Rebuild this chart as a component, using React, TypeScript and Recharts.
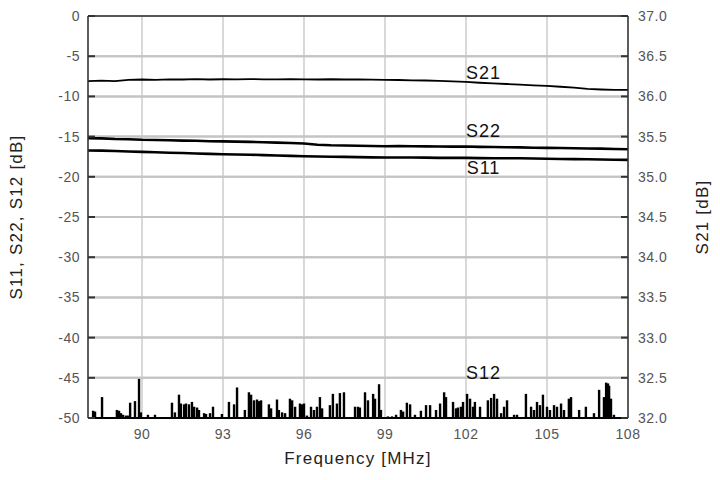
import React from 'react';
import {
  ComposedChart,
  Line,
  Bar,
  XAxis,
  YAxis,
  CartesianGrid,
  ReferenceLine,
  ReferenceDot,
  Label,
} from 'recharts';

const xTicks = [90, 93, 96, 99, 102, 105, 108];
const leftTicks = [0, -5, -10, -15, -20, -25, -30, -35, -40, -45, -50];
const rightTicks = [32, 32.5, 33, 33.5, 34, 34.5, 35, 35.5, 36, 36.5, 37];

// S21 on the right axis
const s21Freq = [88, 88.5, 89, 89.5, 90, 90.5, 91, 91.5, 92, 92.5, 93, 93.5, 94, 94.5, 95, 95.5, 96, 96.5, 97, 97.5, 98, 98.5, 99, 99.5, 100, 100.5, 101, 101.5, 102, 102.5, 103, 103.5, 104, 104.5, 105, 105.5, 106, 106.5, 107, 107.5, 108];
const s21Vals = [36.19, 36.195, 36.19, 36.205, 36.21, 36.205, 36.212, 36.21, 36.214, 36.21, 36.213, 36.212, 36.215, 36.213, 36.212, 36.214, 36.212, 36.21, 36.213, 36.21, 36.21, 36.208, 36.206, 36.204, 36.2, 36.198, 36.194, 36.188, 36.18, 36.17, 36.162, 36.154, 36.146, 36.138, 36.13, 36.12, 36.108, 36.094, 36.086, 36.081, 36.08];

// S22 and S11 on the left axis
const s22Freq = [88, 88.5, 89, 89.5, 90, 90.5, 91, 91.5, 92, 92.5, 93, 93.5, 94, 94.5, 95, 95.5, 96, 96.5, 97, 97.5, 98, 98.5, 99, 99.5, 100, 100.5, 101, 101.5, 102, 102.5, 103, 103.5, 104, 104.5, 105, 105.5, 106, 106.5, 107, 107.5, 108];
const s22Vals = [-15.2, -15.22, -15.3, -15.33, -15.4, -15.42, -15.45, -15.5, -15.52, -15.58, -15.6, -15.62, -15.66, -15.7, -15.75, -15.8, -15.85, -16.02, -16.08, -16.1, -16.14, -16.16, -16.2, -16.18, -16.2, -16.22, -16.24, -16.25, -16.24, -16.28, -16.3, -16.32, -16.34, -16.38, -16.4, -16.42, -16.45, -16.48, -16.5, -16.55, -16.58];

const s11Freq = [88, 88.5, 89, 89.5, 90, 90.5, 91, 91.5, 92, 92.5, 93, 93.5, 94, 94.5, 95, 95.5, 96, 96.5, 97, 97.5, 98, 98.5, 99, 99.5, 100, 100.5, 101, 101.5, 102, 102.5, 103, 103.5, 104, 104.5, 105, 105.5, 106, 106.5, 107, 107.5, 108];
const s11Vals = [-16.72, -16.75, -16.8, -16.86, -16.9, -16.95, -17.0, -17.04, -17.1, -17.15, -17.2, -17.22, -17.25, -17.3, -17.35, -17.4, -17.45, -17.48, -17.5, -17.52, -17.55, -17.58, -17.6, -17.6, -17.6, -17.62, -17.65, -17.64, -17.65, -17.68, -17.7, -17.7, -17.7, -17.72, -17.75, -17.78, -17.8, -17.82, -17.85, -17.88, -17.9];

// S12 spikes above the -50 dB floor
const s12Freq = [88.19, 88.26, 88.52, 89.07, 89.15, 89.22, 89.3, 89.41, 89.48, 89.56, 89.74, 89.89, 89.96, 90.22, 90.48, 91.11, 91.22, 91.37, 91.44, 91.56, 91.63, 91.74, 91.85, 91.93, 92.04, 92.11, 92.3, 92.37, 92.52, 92.63, 92.96, 93.22, 93.41, 93.52, 93.81, 93.96, 94.04, 94.15, 94.26, 94.33, 94.41, 94.7, 94.78, 95.0, 95.07, 95.19, 95.3, 95.48, 95.56, 95.67, 95.85, 95.93, 96.0, 96.11, 96.26, 96.37, 96.48, 96.59, 96.67, 96.96, 97.07, 97.22, 97.33, 97.48, 97.89, 98.0, 98.07, 98.26, 98.37, 98.56, 98.63, 98.78, 98.85, 99.11, 99.26, 99.41, 99.59, 99.67, 99.81, 99.93, 100.11, 100.33, 100.52, 100.67, 100.89, 101.04, 101.19, 101.26, 101.52, 101.63, 101.7, 101.81, 101.89, 102.04, 102.15, 102.26, 102.33, 102.52, 102.81, 102.93, 103.04, 103.15, 103.3, 103.41, 103.52, 103.78, 103.89, 104.22, 104.41, 104.52, 104.63, 104.74, 104.85, 105.0, 105.11, 105.26, 105.37, 105.52, 105.63, 105.81, 105.89, 106.19, 106.44, 106.74, 106.93, 107.11, 107.19, 107.26, 107.3, 107.37, 107.48];
const s12Vals = [-49.1, -49.2, -47.4, -49.0, -49.1, -49.4, -49.6, -49.7, -49.7, -48.1, -47.9, -45.1, -49.3, -49.6, -49.6, -48.1, -49.3, -47.1, -48.2, -48.3, -48.2, -48.3, -48.0, -48.6, -48.7, -49.0, -49.4, -49.5, -49.4, -48.6, -49.5, -48.0, -48.3, -46.2, -49.0, -46.8, -47.1, -47.8, -47.7, -47.9, -47.8, -48.3, -48.8, -47.7, -49.0, -49.3, -49.4, -47.6, -47.8, -48.6, -48.2, -48.3, -48.2, -49.7, -48.6, -49.0, -48.6, -47.4, -48.8, -48.4, -47.0, -48.2, -46.9, -46.8, -48.6, -48.6, -48.7, -46.8, -47.8, -47.0, -47.6, -45.8, -49.0, -49.8, -49.8, -49.6, -49.0, -49.2, -48.1, -48.3, -49.6, -49.1, -48.4, -48.4, -49.0, -48.2, -46.8, -47.4, -48.0, -48.8, -48.7, -48.6, -48.0, -47.0, -47.6, -48.6, -48.0, -48.6, -47.8, -47.5, -47.0, -47.6, -49.4, -48.6, -47.8, -49.6, -49.6, -47.0, -48.6, -49.0, -48.0, -48.4, -47.1, -48.6, -49.0, -48.4, -48.6, -48.2, -49.0, -47.6, -47.4, -49.0, -48.6, -49.4, -46.5, -47.4, -45.6, -45.7, -46.0, -47.6, -49.6];

const FLOOR = -50;

type Row = { f: number; s21?: number; s22?: number; s11?: number; s12?: [number, number] };

const rows: Row[] = [
  ...s21Freq.map((f, i) => ({ f, s21: s21Vals[i] })),
  ...s22Freq.map((f, i) => ({ f, s22: s22Vals[i] })),
  ...s11Freq.map((f, i) => ({ f, s11: s11Vals[i] })),
  ...s12Freq.map((f, i) => ({ f, s12: [FLOOR, s12Vals[i]] as [number, number] })),
].sort((a, b) => a.f - b.f);

const font = '"Liberation Sans", Arial, sans-serif';
const tickStyle = { fontSize: 14, fill: '#555', fontFamily: font, letterSpacing: 0.5 };
const labelStyle = { fontSize: 17, fill: '#222', fontFamily: font, letterSpacing: 1.2 };
const GRID = '#c4c4c4';

const seriesLabel = (text: string) => ({
  value: text,
  position: 'center' as const,
  fill: '#111',
  fontSize: 18,
  fontFamily: font,
  letterSpacing: 1,
});

// spike with a fixed visible width, centred where the library put the bar
const Spike = (props: any) => {
  const { x, y, width, height } = props;
  if (height == null || Number.isNaN(height)) return null;
  const w = 2.4;
  const cx = x + width / 2;
  const top = Math.min(y, y + height);
  return <rect x={cx - w / 2} y={top} width={w} height={Math.abs(height)} fill="#000" />;
};

export default function App() {
  return (
    <div style={{ width: 720, height: 480, margin: -8, background: '#fff' }}>
      <ComposedChart
        width={720}
        height={480}
        data={rows}
        margin={{ top: 16, right: 20, bottom: 32, left: 18 }}
      >
        <CartesianGrid yAxisId="left" vertical={false} stroke={GRID} strokeWidth={2} />
        <CartesianGrid horizontal={false} stroke={GRID} strokeWidth={1.3} />
        <XAxis
          dataKey="f"
          type="number"
          domain={[88, 108]}
          ticks={xTicks}
          allowDataOverflow
          height={30}
          tickLine={false}
          tickMargin={5}
          tick={tickStyle}
          axisLine={{ stroke: '#000', strokeWidth: 2 }}
        >
          <Label value="Frequency [MHz]" position="bottom" offset={4} style={labelStyle} />
        </XAxis>
        <YAxis
          yAxisId="left"
          domain={[-50, 0]}
          ticks={leftTicks}
          allowDataOverflow
          width={70}
          tickSize={-7}
          tickMargin={15}
          tick={tickStyle}
          tickLine={{ stroke: '#333', strokeWidth: 2 }}
          axisLine={{ stroke: '#333', strokeWidth: 1.5 }}
        >
          <Label
            value="S11, S22, S12 [dB]"
            angle={-90}
            position="insideLeft"
            offset={-2}
            style={{ ...labelStyle, textAnchor: 'middle' }}
          />
        </YAxis>
        <YAxis
          yAxisId="right"
          orientation="right"
          domain={[32, 37]}
          ticks={rightTicks}
          allowDataOverflow
          width={72}
          tickSize={-7}
          tickMargin={17}
          tick={tickStyle}
          tickFormatter={(v: number) => v.toFixed(1)}
          tickLine={{ stroke: '#333', strokeWidth: 2 }}
          axisLine={{ stroke: '#333', strokeWidth: 1.5 }}
        >
          <Label
            value="S21 [dB]"
            angle={-90}
            position="insideRight"
            offset={-2}
            style={{ ...labelStyle, textAnchor: 'middle' }}
          />
        </YAxis>
        <ReferenceLine yAxisId="left" y={leftTicks[1]} stroke={GRID} strokeWidth={2} />
        <ReferenceLine yAxisId="left" y={leftTicks[2]} stroke={GRID} strokeWidth={2} />
        <ReferenceLine yAxisId="left" y={leftTicks[3]} stroke={GRID} strokeWidth={2} />
        <ReferenceLine yAxisId="left" y={leftTicks[4]} stroke={GRID} strokeWidth={2} />
        <ReferenceLine yAxisId="left" y={leftTicks[5]} stroke={GRID} strokeWidth={2} />
        <ReferenceLine yAxisId="left" y={leftTicks[6]} stroke={GRID} strokeWidth={2} />
        <ReferenceLine yAxisId="left" y={leftTicks[7]} stroke={GRID} strokeWidth={2} />
        <ReferenceLine yAxisId="left" y={leftTicks[8]} stroke={GRID} strokeWidth={2} />
        <ReferenceLine yAxisId="left" y={leftTicks[9]} stroke={GRID} strokeWidth={2} />
        <ReferenceLine yAxisId="left" y={0} stroke="#555" strokeWidth={2} />
        <Bar
          yAxisId="left"
          dataKey="s12"
          fill="#000"
          shape={Spike}
          isAnimationActive={false}
        />
        <Line
          yAxisId="right"
          dataKey="s21"
          stroke="#000"
          strokeWidth={1.8}
          dot={false}
          connectNulls
          isAnimationActive={false}
        />
        <Line
          yAxisId="left"
          dataKey="s22"
          stroke="#000"
          strokeWidth={2.6}
          dot={false}
          connectNulls
          isAnimationActive={false}
        />
        <Line
          yAxisId="left"
          dataKey="s11"
          stroke="#000"
          strokeWidth={2.6}
          dot={false}
          connectNulls
          isAnimationActive={false}
        />
        <ReferenceDot yAxisId="left" x={102.65} y={-7.1} r={0} stroke="none" label={seriesLabel('S21')} />
        <ReferenceDot yAxisId="left" x={102.65} y={-14.3} r={0} stroke="none" label={seriesLabel('S22')} />
        <ReferenceDot yAxisId="left" x={102.65} y={-18.9} r={0} stroke="none" label={seriesLabel('S11')} />
        <ReferenceDot yAxisId="left" x={102.65} y={-44.3} r={0} stroke="none" label={seriesLabel('S12')} />
      </ComposedChart>
    </div>
  );
}
